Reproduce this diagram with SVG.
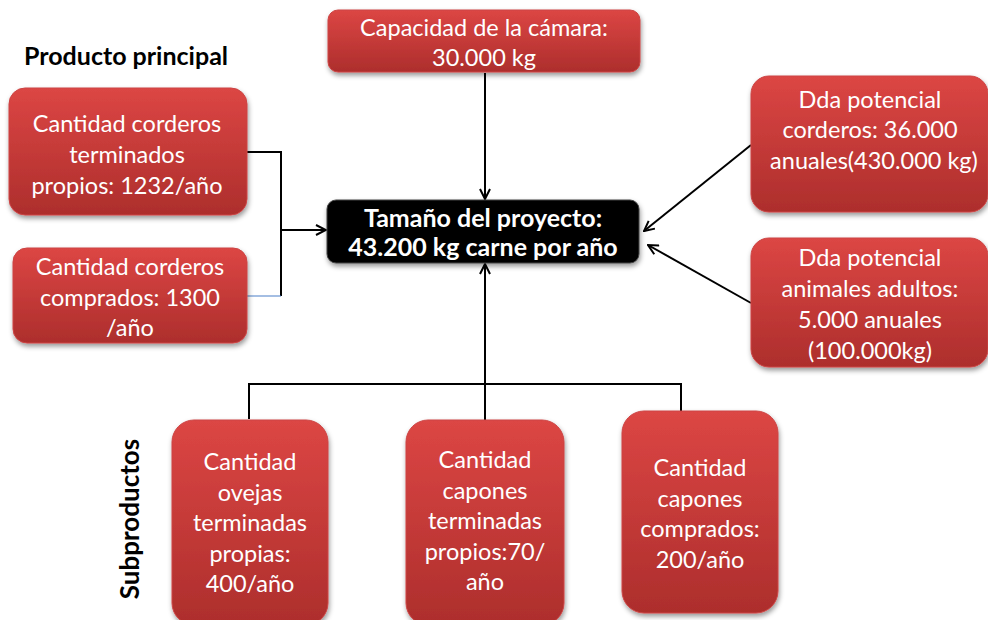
<svg xmlns="http://www.w3.org/2000/svg" width="988" height="620" viewBox="0 0 988 620">
<style>
.box{fill:url(#red);stroke:#c44;stroke-width:1;filter:url(#sh)}
.t{font-family:Lato,"Open Sans","Liberation Sans",sans-serif;font-size:23.5px;fill:#fff;text-anchor:middle}
.tb{font-family:Lato,"Open Sans","Liberation Sans",sans-serif;font-size:25px;font-weight:bold;fill:#fff;text-anchor:middle}
.lbl{font-family:Lato,"Open Sans","Liberation Sans",sans-serif;font-size:25px;font-weight:bold;fill:#000}
.c{fill:none;stroke:#000;stroke-width:2}
</style>
<defs>
<linearGradient id="red" x1="0" y1="0" x2="0" y2="1">
<stop offset="0" stop-color="#dc4644"/>
<stop offset="1" stop-color="#ad2e2c"/>
</linearGradient>
<filter id="sh" x="-10%" y="-10%" width="125%" height="130%">
<feDropShadow dx="1" dy="3" stdDeviation="2.5" flood-color="#000" flood-opacity="0.4"/>
</filter>
<marker id="ah" viewBox="0 0 12 12" refX="11" refY="6" markerWidth="12" markerHeight="12" markerUnits="userSpaceOnUse" orient="auto">
<path d="M1,1 L11,6 L1,11" fill="none" stroke="#000" stroke-width="2"/>
</marker>
</defs>
<rect width="988" height="620" fill="#fff"/>
<text class="lbl" x="24" y="65">Producto principal</text>
<text class="lbl" transform="translate(139,519) rotate(-90)" text-anchor="middle" style="font-size:26px">Subproductos</text>
<g id="connectors">
<path class="c" d="M247,152 H281 V296"/>
<path d="M247,296 H281" stroke="#4a7fc8" stroke-width="1.2" fill="none"/>
<path class="c" d="M281,230 H326" marker-end="url(#ah)"/>
<path class="c" d="M485,73 V199" marker-end="url(#ah)"/>
<path class="c" d="M751,145 L644,231" marker-end="url(#ah)"/>
<path class="c" d="M751,303 L648,245" marker-end="url(#ah)"/>
<path class="c" d="M249,419 V384 H681 V411 M485,420 V384"/>
<path class="c" d="M485,384 V264" marker-end="url(#ah)"/>
</g>
<g id="capacidad">
<rect class="box" x="328" y="10" width="312" height="62" rx="10"/>
<text class="t" x="484" y="36">Capacidad de la cámara:</text>
<text class="t" x="484" y="66">30.000 kg</text>
</g>
<g id="tamano">
<rect x="327" y="200" width="312" height="63" rx="9" fill="#000" stroke="#444" stroke-width="1" filter="url(#sh)"/>
<text class="tb" x="483" y="227">Tamaño del proyecto:</text>
<text class="tb" x="483" y="256">43.200 kg carne por año</text>
</g>
<g id="corderos-propios">
<rect class="box" x="9" y="88" width="238" height="127" rx="16"/>
<text class="t" x="127" y="132">Cantidad corderos</text>
<text class="t" x="127" y="163">terminados</text>
<text class="t" x="127" y="194">propios: 1232/año</text>
</g>
<g id="corderos-comprados">
<rect class="box" x="13" y="248" width="234" height="95" rx="14"/>
<text class="t" x="130" y="275">Cantidad corderos</text>
<text class="t" x="130" y="306">comprados: 1300</text>
<text class="t" x="130" y="336">/año</text>
</g>
<g id="dda-corderos">
<rect class="box" x="751" y="76" width="237" height="136" rx="18"/>
<text class="t" x="870" y="108">Dda potencial</text>
<text class="t" x="870" y="138">corderos: 36.000</text>
<text class="t" x="874" y="169">anuales(430.000 kg)</text>
</g>
<g id="dda-adultos">
<rect class="box" x="751" y="238" width="237" height="129" rx="18"/>
<text class="t" x="870" y="266">Dda potencial</text>
<text class="t" x="870" y="297">animales adultos:</text>
<text class="t" x="870" y="328">5.000 anuales</text>
<text class="t" x="870" y="359">(100.000kg)</text>
</g>
<g id="ovejas">
<rect class="box" x="172" y="420" width="156" height="205" rx="22"/>
<text class="t" x="250" y="470">Cantidad</text>
<text class="t" x="250" y="501">ovejas</text>
<text class="t" x="250" y="531">terminadas</text>
<text class="t" x="250" y="562">propias:</text>
<text class="t" x="250" y="592">400/año</text>
</g>
<g id="capones-propios">
<rect class="box" x="406" y="420" width="158" height="205" rx="22"/>
<text class="t" x="485" y="468">Cantidad</text>
<text class="t" x="485" y="499">capones</text>
<text class="t" x="485" y="529">terminadas</text>
<text class="t" x="485" y="560">propios:70/</text>
<text class="t" x="485" y="590">año</text>
</g>
<g id="capones-comprados">
<rect class="box" x="622" y="411" width="156" height="202" rx="22"/>
<text class="t" x="700" y="476">Cantidad</text>
<text class="t" x="700" y="507">capones</text>
<text class="t" x="700" y="537">comprados:</text>
<text class="t" x="700" y="568">200/año</text>
</g>
</svg>
